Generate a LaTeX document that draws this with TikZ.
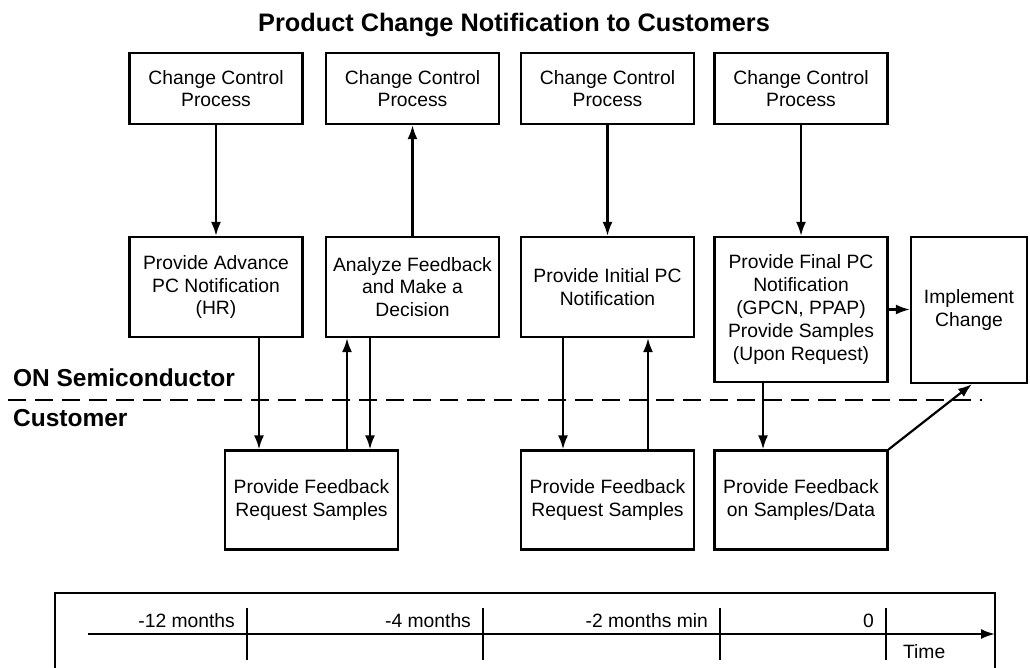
\documentclass[tikz,border=0pt]{standalone}
\usepackage{fontspec}
\setmainfont{Liberation Sans}
\usetikzlibrary{arrows.meta}
\begin{document}
\begin{tikzpicture}[x=1pt,y=-1pt,line width=2.2pt,
  box/.style={draw,line width=2.2pt,inner sep=0pt,align=center,font=\fontsize{19.3}{22.8}\selectfont,minimum width=173pt},
  topbox/.style={box,minimum height=71pt},
  midbox/.style={box,minimum height=100pt},
  botbox/.style={box,minimum height=99pt},
  arr/.style={-{Latex[length=14pt,width=10pt]},line width=2.2pt},
  lbl/.style={font=\fontsize{19.3}{22.8}\selectfont,inner sep=0pt},
  side/.style={font=\fontsize{24.5}{29}\selectfont\bfseries,inner sep=0pt,anchor=base west},
  tick/.style={line width=2.2pt}]
\useasboundingbox (0,0) rectangle (1030,667);

% title
\node[font=\fontsize{25.3}{30}\selectfont\bfseries,inner sep=0pt,anchor=base] (title) at (514,31) {Product Change Notification to Customers};

% top row
\node[topbox] (t1) at (216,88.5) {Change Control\\Process};
\node[topbox] (t2) at (412.5,88.5) {Change Control\\Process};
\node[topbox] (t3) at (607.5,88.5) {Change Control\\Process};
\node[topbox] (t4) at (801,88.5) {Change Control\\Process};

% middle row
\node[midbox] (m1) at (216,287) {Provide Advance\\PC Notification\\(HR)};
\node[midbox] (m2) at (412.5,287) {Analyze Feedback\\and Make a\\Decision};
\node[midbox] (m3) at (607.5,287) {Provide Initial PC\\Notification};
\node[box,minimum height=145pt] (m4) at (801,309.5) {Provide Final PC\\Notification\\(GPCN, PPAP)\\Provide Samples\\(Upon Request)};
\node[box,minimum width=116pt,minimum height=146pt] (impl) at (969,310) {Implement\\Change};

% bottom row
\node[botbox] (b1) at (311.5,500) {Provide Feedback\\Request Samples};
\node[botbox] (b3) at (607.5,500) {Provide Feedback\\Request Samples};
\node[botbox] (b4) at (801,500) {Provide Feedback\\on Samples/Data};

% connectors top-middle
\draw[arr] (t1.south) -- (m1.north);
\draw[arr] (m2.north) -- (t2.south);
\draw[arr] (t3.south) -- (m3.north);
\draw[arr] (t4.south) -- (m4.north);

% middle-bottom
\draw[arr] ([xshift=43pt]m1.south) -- ([xshift=43pt]m1.south |- b1.north);
\draw[arr] ([xshift=-65.5pt]m2.south |- b1.north) -- ([xshift=-65.5pt]m2.south);
\draw[arr] ([xshift=-42.5pt]m2.south) -- ([xshift=-42.5pt]m2.south |- b1.north);
\draw[arr] ([xshift=-44.5pt]m3.south) -- ([xshift=-44.5pt]m3.south |- b3.north);
\draw[arr] ([xshift=40.5pt]m3.south |- b3.north) -- ([xshift=40.5pt]m3.south);
\draw[arr] ([xshift=-38pt]m4.south) -- ([xshift=-38pt]m4.south |- b4.north);
\draw[arr] (m4.east) -- (m4.east -| impl.west);
\draw[arr] (b4.north east) -- ([xshift=3pt]impl.south);

% organisation boundary
\coordinate (dl) at (8,400);
\coordinate (dr) at (982,400);
\draw[dash pattern=on 18pt off 9pt] (dl) -- (dr);
\node[side] (on) at (12,386) {ON Semiconductor};
\node[side] (cust) at (12,426) {Customer};

% timeline
\draw (55,690) -- (55,593) -- (995,593) -- (995,690);
\coordinate (ax0) at (88,634);
\coordinate (ax1) at (995,634);
\draw[arr] (ax0) -- (ax1);
\foreach \x/\t/\n in {247/-12 months/a,483/-4 months/b,720/-2 months min/c,886/0/d}{
  \draw[tick] (\x,608) -- (\x,660);
  \node[lbl,anchor=base east] (lab\n) at (\x-11,627) {\t};
}
\node[lbl,anchor=base west] (time) at (902,658) {Time};
\end{tikzpicture}
\end{document}
